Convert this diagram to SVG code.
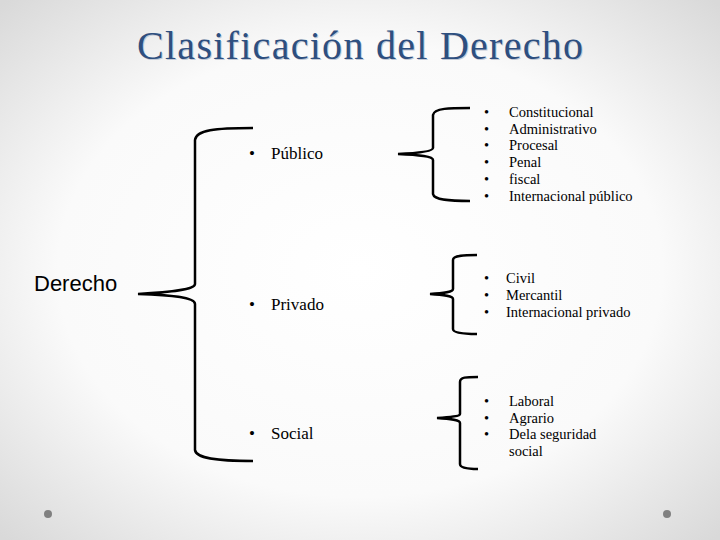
<svg xmlns="http://www.w3.org/2000/svg" width="720" height="540" viewBox="0 0 720 540">
<defs>
<radialGradient id="bg" cx="50%" cy="50%" r="70%">
<stop offset="0" stop-color="#ffffff"/><stop offset="0.6" stop-color="#fafafa"/><stop offset="1" stop-color="#d9d9d9"/>
</radialGradient>
<style>
.br{fill:none;stroke:#000;stroke-width:2.5}
.t{font-family:"Liberation Serif",serif;font-size:17px;fill:#000}
.s{font-family:"Liberation Serif",serif;font-size:14.5px;fill:#000}
</style>
</defs>
<rect width="720" height="540" fill="url(#bg)"/>
<text x="361" y="60" text-anchor="middle" font-family="Liberation Serif,serif" font-size="40" fill="#c3cad6" textLength="446" lengthAdjust="spacing">Clasificación del Derecho</text>
<text x="360" y="59" text-anchor="middle" font-family="Liberation Serif,serif" font-size="40" fill="#2e4f7f" textLength="446" lengthAdjust="spacing">Clasificación del Derecho</text>
<circle cx="48" cy="514" r="4" fill="#808080"/>
<circle cx="667" cy="514" r="4" fill="#808080"/>
<g id="derecho"><text x="34" y="291" font-family="Liberation Sans,sans-serif" font-size="22">Derecho</text></g>
<g id="connectors">
<path class="br" d="M253,128 C215,128 196,130 195,140 L195,284 C195,290 170,292 138,294 C170,295 195,297 195,304 L195,450 C196,458 215,461 253,461"/>
<path class="br" d="M470,108 C450,108 434,108 433,115 L433,148 C433,151 420,153 398,154 C420,155 433,156 433,160 L433,194 C434,200 450,201 470,201"/>
<path class="br" d="M477,255 C465,255 453,255 453,260 L453,289 C453,292 445,293 430,294 C445,295 453,296 453,299 L453,329 C453,333 465,334 477,334"/>
<path class="br" d="M478,377 C466,377 460,377 460,382 L460,414 C460,416 452,417 437,418 C452,419 460,420 460,423 L460,464 C460,468 468,469 478,469"/>
</g>
<g id="publico"><text class="t" x="249" y="159">•</text><text class="t" x="271" y="159">Público</text></g>
<g id="privado"><text class="t" x="249" y="310">•</text><text class="t" x="271" y="310">Privado</text></g>
<g id="social"><text class="t" x="249" y="439">•</text><text class="t" x="271" y="439">Social</text></g>
<g id="publico-list">
<text class="s" x="484" y="117">•</text><text class="s" x="509" y="117">Constitucional</text>
<text class="s" x="484" y="134">•</text><text class="s" x="509" y="134">Administrativo</text>
<text class="s" x="484" y="150">•</text><text class="s" x="509" y="150">Procesal</text>
<text class="s" x="484" y="167">•</text><text class="s" x="509" y="167">Penal</text>
<text class="s" x="484" y="184">•</text><text class="s" x="509" y="184">fiscal</text>
<text class="s" x="484" y="201">•</text><text class="s" x="509" y="201">Internacional público</text>
</g>
<g id="privado-list">
<text class="s" x="484" y="283">•</text><text class="s" x="506" y="283">Civil</text>
<text class="s" x="484" y="300">•</text><text class="s" x="506" y="300">Mercantil</text>
<text class="s" x="484" y="317">•</text><text class="s" x="506" y="317">Internacional privado</text>
</g>
<g id="social-list">
<text class="s" x="484" y="406">•</text><text class="s" x="509" y="406">Laboral</text>
<text class="s" x="484" y="423">•</text><text class="s" x="509" y="423">Agrario</text>
<text class="s" x="484" y="439">•</text><text class="s" x="509" y="439">Dela seguridad</text>
<text class="s" x="509" y="456">social</text>
</g>
</svg>
